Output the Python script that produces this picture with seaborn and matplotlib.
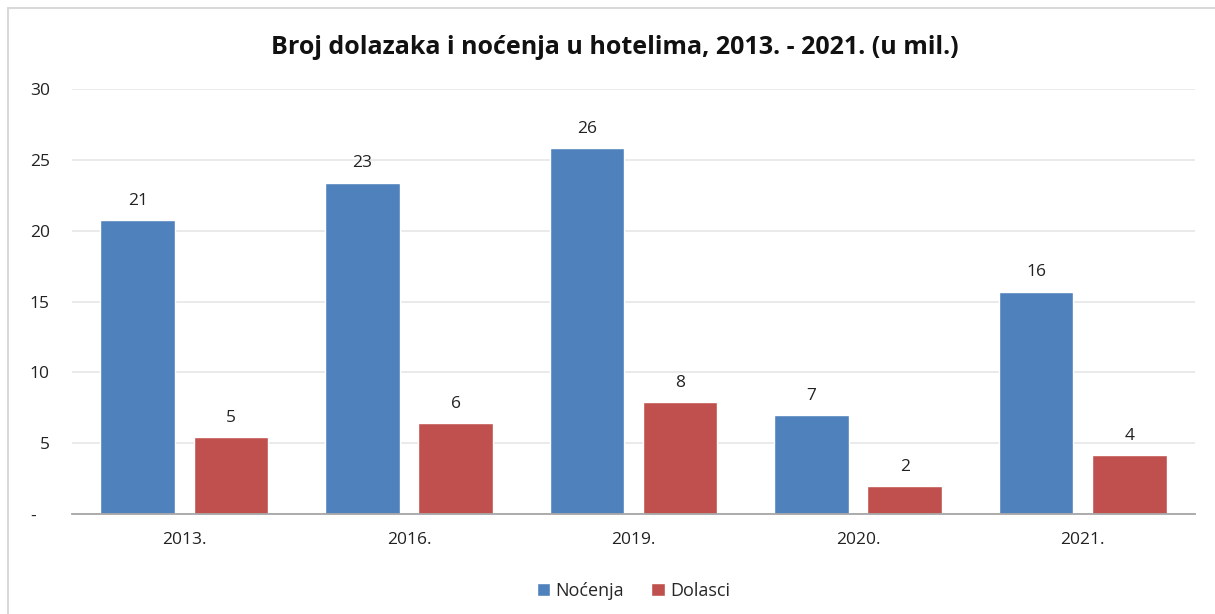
import matplotlib
matplotlib.use("Agg")
import matplotlib.pyplot as plt
import pandas as pd
import seaborn as sns

# podaci procitani sa grafikona (u milijunima)
godine = ["2013.", "2016.", "2019.", "2020.", "2021."]
nocenja = [20.75, 23.4, 25.85, 7.0, 15.7]
dolasci = [5.45, 6.45, 7.9, 2.0, 4.15]
serije = ["Noćenja", "Dolasci"]
boje = ["#4F81BD", "#C0504D"]

df = pd.DataFrame({
    "Godina": godine * 2,
    "Serija": [serije[0]] * len(godine) + [serije[1]] * len(godine),
    "Vrijednost": nocenja + dolasci,
})

sns.set_style("white")
plt.rcParams["font.family"] = ["Open Sans", "DejaVu Sans"]

fig = plt.figure(figsize=(12.15, 6.14), dpi=100)
ax = fig.add_axes([72 / 1215, 1 - 514 / 614, (1195 - 72) / 1215, (514 - 89) / 614])

sns.barplot(data=df, x="Godina", y="Vrijednost", hue="Serija", palette=boje,
            width=0.83, gap=0.2, ax=ax, legend=True, saturation=1)

for c in ax.containers:
    ax.bar_label(c, labels=[f"{v:.0f}" for v in c.datavalues], padding=8,
                 fontsize=12.5, color="#222222")

ax.set_ylim(0, 30)
ax.set_yticks([0, 5, 10, 15, 20, 25, 30])
ax.set_yticklabels(["-   ", "5", "10", "15", "20", "25", "30"])
ax.yaxis.grid(True, color="#E6E6E6", linewidth=1.2)
ax.set_axisbelow(True)
ax.set_xlabel("")
ax.set_ylabel("")
ax.tick_params(axis="both", length=0, labelsize=12.5, colors="#222222")
ax.tick_params(axis="x", pad=13)
ax.tick_params(axis="y", pad=16)
for s in ["top", "right", "left"]:
    ax.spines[s].set_visible(False)
ax.spines["bottom"].set_color("#A6A6A6")
ax.spines["bottom"].set_linewidth(1.3)

ax.legend(loc="center", bbox_to_anchor=(0.5, -0.18), ncol=2, frameon=False,
          fontsize=13, handlelength=0.75, handleheight=0.75, handletextpad=0.3,
          columnspacing=1.5)

fig.text(615 / 1215, 1 - 47 / 614, "Broj dolazaka i noćenja u hotelima, 2013. - 2021. (u mil.)",
         ha="center", va="center", fontsize=18, fontweight="bold", color="#111111")

# okvir grafikona
okvir = plt.Rectangle((8 / 1215, -0.05), 1.2, 1 - 8 / 614 + 0.05, transform=fig.transFigure,
                      fill=False, edgecolor="#D9D9D9", linewidth=1.5)
fig.patches.append(okvir)

fig.savefig("out.png", dpi=100)
